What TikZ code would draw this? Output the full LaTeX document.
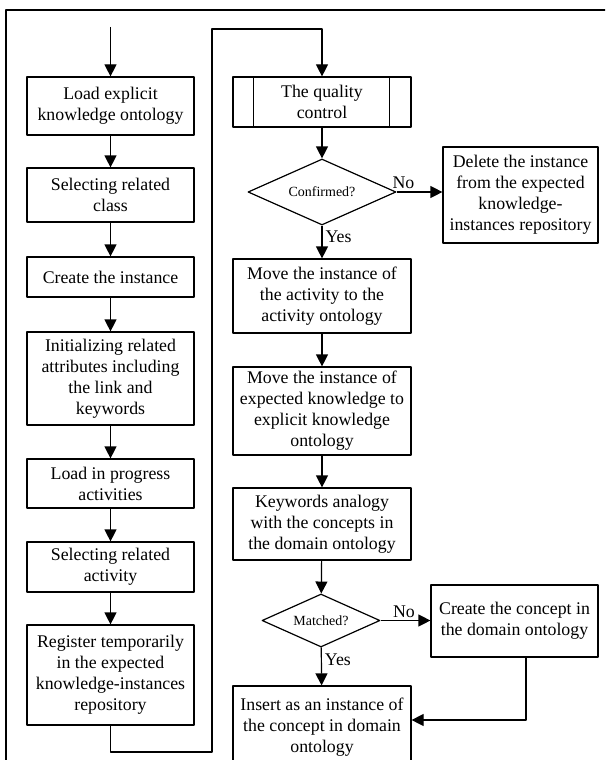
\documentclass[tikz,border=0pt]{standalone}
\usepackage{fontspec}
\setmainfont{Liberation Serif}
\usetikzlibrary{arrows.meta,shapes.geometric}
\begin{document}
\begin{tikzpicture}[x=1pt,y=-1pt,>={Triangle[length=12pt,width=12pt]}, font=\fontsize{17.8}{21}\selectfont, line join=round,
	box/.style={draw, line width=1.2pt, align=center, inner sep=1pt},
	lbox/.style={box, minimum width=167pt},
	rbox/.style={box, minimum width=178pt},
	decision/.style={draw, diamond, line width=1.2pt, inner sep=0pt, aspect=2.2, font=\fontsize{14}{16}\selectfont},
	link/.style={->, line width=1.2pt}]
	\useasboundingbox (0,0) rectangle (605,760);
	\clip (0,0) rectangle (605,760);
	\draw[line width=1.2pt] (6,10) rectangle (640,800);
	% left column
	\coordinate (start) at (110.5,27);
	\node[lbox, minimum height=58pt] (load) at (110.5,106) {Load explicit\\knowledge ontology};
	\node[lbox, minimum height=54pt] (selclass) at (110.5,195) {Selecting related\\class};
	\node[lbox, minimum height=40pt] (create) at (110.5,277) {Create the instance};
	\node[lbox, minimum height=93pt] (init) at (110.5,378.5) {Initializing related\\attributes including\\the link and\\keywords};
	\node[lbox, minimum height=49pt] (loadprog) at (110.5,483.5) {Load in progress\\activities};
	\node[lbox, minimum height=50pt] (selact) at (110.5,567) {Selecting related\\activity};
	\node[lbox, minimum height=100pt] (register) at (110.5,675) {Register temporarily\\in the expected\\knowledge-instances\\repository};
	% right column
	\node[rbox, minimum height=50pt] (quality) at (322,102) {The quality\\control};
	\draw[line width=1.2pt] ([xshift=21pt]quality.north west) -- ([xshift=21pt]quality.south west)
		([xshift=-22pt]quality.north east) -- ([xshift=-22pt]quality.south east);
	\node[decision, minimum width=148pt, minimum height=66pt] (confirmed) at (322,192) {Confirmed?};
	\node[box, minimum width=155pt, minimum height=96pt] (delete) at (520.5,195) {Delete the instance\\from the expected\\knowledge-\\instances repository};
	\node[rbox, minimum height=74pt] (moveact) at (322,296) {Move the instance of\\the activity to the\\activity ontology};
	\node[rbox, minimum height=88pt] (moveknow) at (322,411) {Move the instance of\\expected knowledge to\\explicit knowledge\\ontology};
	\node[rbox, minimum height=72pt] (keywords) at (322,524) {Keywords analogy\\with the concepts in\\the domain ontology};
	\node[decision, minimum width=118pt, minimum height=53pt] (matched) at (321,620.5) {Matched?};
	\node[box, minimum width=167pt, minimum height=72pt] (concept) at (514.5,621) {Create the concept in\\the domain ontology};
	\node[rbox, minimum height=82pt] (insert) at (322,727) {Insert as an instance of\\the concept in domain\\ontology};
	\coordinate (loopb) at (212,752);
	\coordinate (loopt) at (322,29);
	\coordinate (bend) at (526,720);
	% connectors
	\draw[link] (start) -- (load);
	\draw[link] (load) -- (selclass);
	\draw[link] (selclass) -- (create);
	\draw[link] (create) -- (init);
	\draw[link] (init) -- (loadprog);
	\draw[link] (loadprog) -- (selact);
	\draw[link] (selact) -- (register);
	\draw[link] (register.south) |- (loopb) |- (loopt) -- (quality.north);
	\draw[link] (quality) -- (confirmed);
	\draw[link] (confirmed.east) -- (confirmed.east -| delete.west) node[pos=0.15, above, inner sep=3pt]{No};
	\draw[link] (confirmed) -- (moveact) node[pos=0.35, right, inner sep=3pt]{Yes};
	\draw[link] (moveact) -- (moveknow);
	\draw[link] (moveknow) -- (keywords);
	\draw[link] (keywords) -- (matched);
	\draw[link] (matched.east) -- (matched.east -| concept.west) node[pos=0.47, above, inner sep=2pt]{No};
	\draw[link] (matched) -- (insert) node[pos=0.33, right, inner sep=3pt]{Yes};
	\draw[link] (bend |- concept.south) -- (bend) -- (bend -| insert.east);
\end{tikzpicture}
\end{document}
